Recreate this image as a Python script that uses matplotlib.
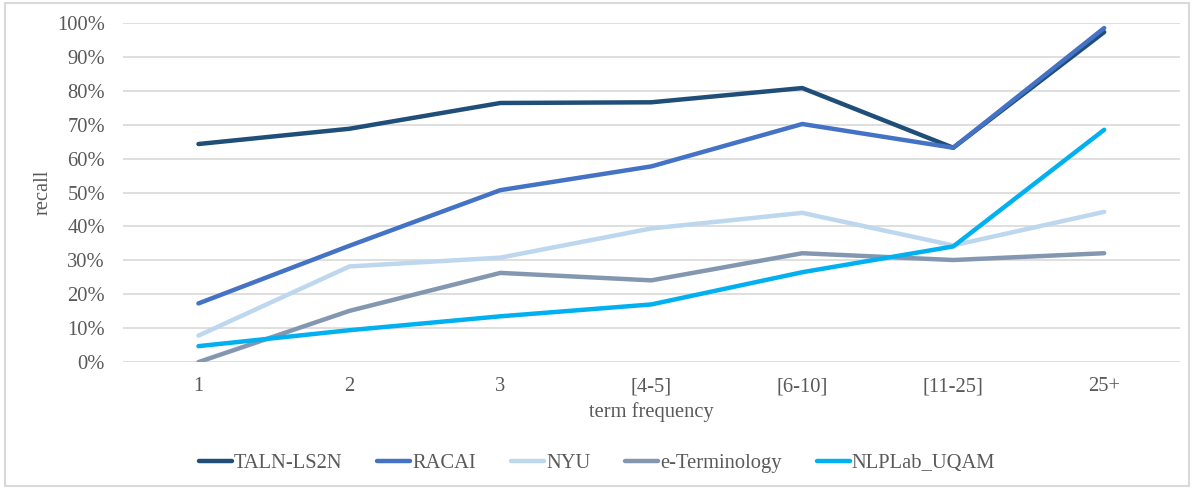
import matplotlib
matplotlib.use("Agg")
import matplotlib.pyplot as plt
from matplotlib.ticker import PercentFormatter
from matplotlib.patches import Rectangle

categories = ["1", "2", "3", "[4-5]", "[6-10]", "[11-25]", "25+"]
taln = [64.3, 68.8, 76.4, 76.6, 80.8, 63.2, 97.3]
racai = [17.3, 34.3, 50.7, 57.7, 70.2, 63.2, 98.5]
nyu = [7.8, 28.2, 30.8, 39.4, 44.0, 34.4, 44.3]
eterm = [0.0, 15.1, 26.3, 24.1, 32.1, 30.1, 32.1]
nlplab = [4.7, 9.4, 13.5, 17.0, 26.5, 34.1, 68.5]

series = [
    ("TALN-LS2N", taln, "#1F4E79"),
    ("RACAI", racai, "#4472C4"),
    ("NYU", nyu, "#BDD7EE"),
    ("e-Terminology", eterm, "#8497B0"),
    ("NLPLab_UQAM", nlplab, "#00B0F0"),
]

plt.rcParams['font.family'] = ['Liberation Serif', 'DejaVu Serif']
text_color = "#595959"
fs = 14.8

fig = plt.figure(figsize=(11.94, 4.88), dpi=100)
ax = fig.add_axes([0.103, 0.258, 0.885, 0.695])

x = list(range(len(categories)))
for name, vals, col in series:
    ax.plot(x, vals, color=col, lw=3.2, label=name, solid_capstyle='round')

ax.set_xlim(-0.5, 6.5)
ax.set_ylim(0, 100)
ax.set_yticks(range(0, 101, 10))
ax.yaxis.set_major_formatter(PercentFormatter(decimals=0))
ax.set_xticks(x)
ax.set_xticklabels(categories)
ax.grid(axis='y', color='#D9D9D9', lw=1.2)
ax.set_axisbelow(True)
for s in ax.spines.values():
    s.set_visible(False)
ax.tick_params(length=0, labelsize=fs, colors=text_color)
ax.tick_params(axis='x', pad=11)
ax.tick_params(axis='y', pad=13)
ax.set_xlabel("term frequency", fontsize=fs, color=text_color, labelpad=4)
ax.set_ylabel("recall", fontsize=fs, color=text_color, labelpad=3)

leg = fig.legend(loc='center', bbox_to_anchor=(0.5, 0.05), ncol=5, frameon=False,
                 fontsize=fs, handlelength=1.6, handletextpad=0.1, columnspacing=1.7)
for t in leg.get_texts():
    t.set_color(text_color)

fig.patches.append(Rectangle((0.004, 0.004), 0.992, 0.99, transform=fig.transFigure,
                             fill=False, edgecolor='#D9D9D9', lw=1.5))

fig.savefig("out.png", dpi=100, facecolor='white')
